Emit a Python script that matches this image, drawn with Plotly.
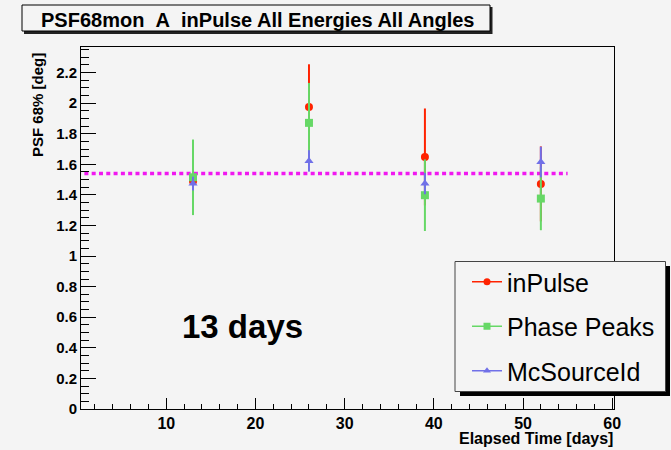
import plotly.graph_objects as go

# ---- data ----
elapsed_days = [13, 26, 39, 52]
inpulse = [1.49, 1.975, 1.648, 1.472]
inpulse_err = [0.02, 0.279, 0.317, 0.245]
phase_peaks = [1.515, 1.871, 1.398, 1.376]
phase_peaks_err = [0.247, 0.261, 0.234, 0.207]
mcsourceid = [1.474, 1.622, 1.474, 1.615]
mcsourceid_err = [0.045, 0.07, 0.07, 0.1]
mean_line_x = [0, 55]
mean_value = 1.54

x_range = [0.44, 60.2]
y_range = [0, 2.367]

BG = "#f4f4f4"
RED = "#ff2200"
GREEN = "#66d866"
BLUE = "#7070e8"
MAGENTA = "#f018f0"
FONT = "Liberation Sans"

# plot area in pixels
W, H = 671, 450
L, R, T, B = 81, 614, 47, 409
PW, PH = R - L, B - T


def px(x):
    return (x - L) / PW


def py(y):
    return (B - y) / PH


fig = go.Figure()

fig.add_trace(go.Scatter(
    x=mean_line_x, y=[mean_value] * len(mean_line_x), mode="lines",
    line=dict(color=MAGENTA, width=3.5, dash="4px,3.3px"),
    showlegend=False, hoverinfo="skip"))

series = [
    ("inPulse", inpulse, inpulse_err, RED, "circle", 8),
    ("Phase Peaks", phase_peaks, phase_peaks_err, GREEN, "square", 8),
    ("McSourceId", mcsourceid, mcsourceid_err, BLUE, "triangle-up", 8),
]
for i, (name, vals, errs, col, sym, sz) in enumerate(series):
    fig.add_trace(go.Scatter(
        x=elapsed_days, y=vals, mode="markers",
        marker=dict(color=col, symbol=sym, size=sz),
        error_y=dict(type="data", array=errs, color=col, thickness=2, width=0),
        showlegend=False, name=name))
for i, (name, vals, errs, col, sym, sz) in enumerate(series):
    fig.add_trace(go.Scatter(
        x=[None], y=[None], mode="lines+markers", name=name,
        line=dict(color=col, width=1.5),
        marker=dict(color=col, symbol=sym, size=7),
        legendgroup=f"g{i}", showlegend=True))

shapes = []
# title box shadow + box
shapes.append(dict(type="rect", xref="paper", yref="paper",
                   x0=px(24), x1=px(492.5), y0=py(7), y1=py(34),
                   fillcolor="#222222", line=dict(width=0), layer="above"))
shapes.append(dict(type="rect", xref="paper", yref="paper",
                   x0=px(22), x1=px(490), y0=py(5), y1=py(31),
                   fillcolor=BG, line=dict(color="black", width=1), layer="above"))
# legend shadow + box
shapes.append(dict(type="rect", xref="paper", yref="paper",
                   x0=px(460), x1=px(670), y0=py(266), y1=py(396),
                   fillcolor="black", line=dict(width=0), layer="above"))
shapes.append(dict(type="rect", xref="paper", yref="paper",
                   x0=px(455), x1=px(665.5), y0=py(261.5), y1=py(391.5),
                   fillcolor=BG, line=dict(color="#444444", width=1), layer="above"))

annotations = [
    dict(text="PSF68mon\u00a0\u00a0A\u00a0\u00a0inPulse All Energies All Angles",
         xref="paper", yref="paper", x=px(257), y=py(19.5),
         xanchor="center", yanchor="middle", showarrow=False,
         font=dict(family=FONT, size=20, color="black", weight="bold")),
    dict(text="PSF 68% [deg]", xref="paper", yref="paper",
         x=px(37), y=py(105), textangle=-90, xanchor="center", yanchor="middle",
         showarrow=False, font=dict(family=FONT, size=15, color="black", weight="bold")),
    dict(text="Elapsed Time [days]", xref="paper", yref="paper",
         x=px(615), y=py(438), xanchor="right", yanchor="middle",
         showarrow=False, font=dict(family=FONT, size=16, color="black", weight="bold")),
    dict(text="13 days", xref="paper", yref="paper",
         x=px(242.5), y=py(326.5), xanchor="center", yanchor="middle",
         showarrow=False, font=dict(family=FONT, size=33, color="black", weight="bold")),
]

fig.update_layout(
    width=W, height=H,
    margin=dict(l=L, r=W - R, t=T, b=H - B, pad=0, autoexpand=False),
    paper_bgcolor=BG, plot_bgcolor=BG,
    shapes=shapes, annotations=annotations,
    showlegend=True,
    legend=dict(x=px(467), y=py(259), xanchor="left", yanchor="top",
                bgcolor="rgba(0,0,0,0)", borderwidth=0,
                font=dict(family=FONT, size=25, color="black"),
                traceorder="grouped", tracegroupgap=9),
    xaxis=dict(range=x_range, showgrid=False, zeroline=False,
               showline=True, linecolor="black", linewidth=1, mirror=True,
               ticks="inside", ticklen=11, tickcolor="black", tickwidth=1,
               tickvals=[10, 20, 30, 40, 50, 60],
               minor=dict(ticks="inside", ticklen=5, dtick=2, tick0=0,
                          tickcolor="black", showgrid=False),
               tickfont=dict(family=FONT, size=16, color="black", weight="bold")),
    yaxis=dict(range=y_range, showgrid=False, zeroline=False,
               showline=True, linecolor="black", linewidth=1, mirror=True,
               ticks="inside", ticklen=15, tickcolor="black", tickwidth=1,
               tick0=0, dtick=0.2,
               minor=dict(ticks="inside", ticklen=8, dtick=0.05, tick0=0,
                          tickcolor="black", showgrid=False),
               tickfont=dict(family=FONT, size=15, color="black", weight="bold")),
)

fig.write_html(
    "out.html",
    config={"displayModeBar": False},
    post_script="document.body.style.margin='0';"
                "document.body.style.background='" + BG + "';",
)
